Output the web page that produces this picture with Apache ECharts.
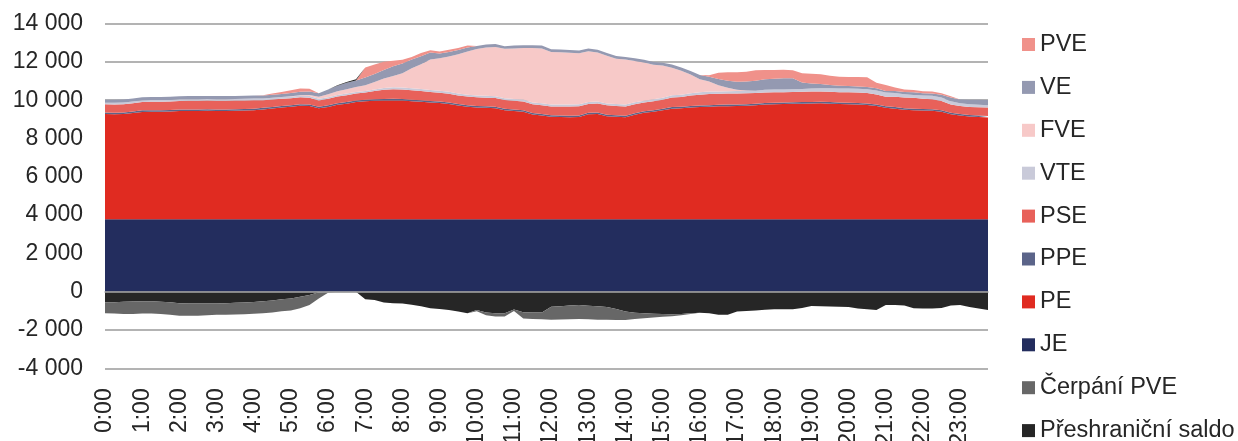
<!DOCTYPE html>
<html>
<head>
<meta charset="utf-8">
<script src="https://cdn.jsdelivr.net/npm/echarts@6/dist/echarts.min.js"></script>
<style>
html,body{margin:0;padding:0;background:#fff;overflow:hidden;}
#chart{width:1238px;height:441px;}
</style>
</head>
<body>
<div id="chart"></div>
<script>
const times = ["0:00","0:15","0:30","0:45","1:00","1:15","1:30","1:45","2:00","2:15","2:30","2:45",
"3:00","3:15","3:30","3:45","4:00","4:15","4:30","4:45","5:00","5:15","5:30","5:45",
"6:00","6:15","6:30","6:45","7:00","7:15","7:30","7:45","8:00","8:15","8:30","8:45",
"9:00","9:15","9:30","9:45","10:00","10:15","10:30","10:45","11:00","11:15","11:30","11:45",
"12:00","12:15","12:30","12:45","13:00","13:15","13:30","13:45","14:00","14:15","14:30","14:45",
"15:00","15:15","15:30","15:45","16:00","16:15","16:30","16:45","17:00","17:15","17:30","17:45",
"18:00","18:15","18:30","18:45","19:00","19:15","19:30","19:45","20:00","20:15","20:30","20:45",
"21:00","21:15","21:30","21:45","22:00","22:15","22:30","22:45","23:00","23:15","23:30","23:45"];

const yTicks = [-4000,-2000,0,2000,4000,6000,8000,10000,12000,14000];

const JE = [3780,3780,3780,3780,3780,3780,3780,3780,3780,3780,3780,3780,3780,3780,3780,3780,
3780,3780,3780,3780,3780,3780,3780,3780,3780,3780,3780,3780,3780,3780,3780,3780,
3780,3780,3780,3780,3780,3780,3780,3780,3780,3780,3780,3780,3780,3780,3780,3780,
3780,3780,3780,3780,3780,3780,3780,3780,3780,3780,3780,3780,3780,3780,3780,3780,
3780,3780,3780,3780,3780,3780,3780,3780,3780,3780,3780,3780,3780,3780,3780,3780,
3780,3780,3780,3780,3780,3780,3780,3780,3780,3780,3780,3780,3780,3780,3780,3780];

const PE = [5495,5490,5500,5550,5610,5620,5620,5630,5650,5660,
5660,5670,5660,5660,5670,5680,5690,5740,5790,5840,
5880,5930,5920,5800,5870,5980,6040,6120,6160,6190,
6200,6210,6200,6170,6140,6100,6070,6020,5940,5880,
5840,5820,5800,5690,5650,5620,5470,5420,5350,5340,
5330,5340,5490,5500,5380,5350,5330,5460,5560,5620,
5690,5780,5800,5840,5860,5880,5900,5910,5920,5930,
5960,5990,6010,6020,6030,6040,6050,6060,6040,6020,
6010,6000,5970,5920,5820,5780,5720,5700,5680,5670,
5620,5480,5420,5370,5340,5320];

const PPE = [80,80,80,80,80,80,80,80,80,80,80,80,80,80,80,80,
80,80,80,80,80,80,80,80,80,80,80,80,80,80,80,80,
80,80,80,80,80,80,80,80,80,80,80,80,80,80,80,80,
80,80,80,80,80,80,80,80,80,80,80,80,80,80,80,80,
80,80,80,80,80,80,80,80,80,80,80,80,80,80,80,80,
80,80,80,80,80,80,80,80,80,80,80,80,80,80,80,80];

const PSE = [430,430,430,435,440,440,440,440,450,450,
450,450,450,450,450,450,450,400,390,380,
365,360,350,330,340,350,360,365,380,430,
490,500,500,490,480,470,460,455,450,450,
450,450,450,455,455,455,455,455,460,470,
480,490,455,470,490,490,480,470,455,470,
480,495,505,540,570,590,580,575,575,575,
560,550,545,540,540,540,540,540,540,540,
540,540,540,520,505,540,560,570,540,520,
480,430,415,420,430,435];

const VTE = [85,85,85,85,85,85,85,85,85,85,
85,85,85,85,85,85,85,85,85,85,
85,85,85,85,85,85,85,85,85,85,
85,100,100,100,100,100,100,100,100,100,
100,100,100,100,100,100,100,100,100,100,
100,100,100,100,100,100,100,100,100,100,
100,120,120,120,120,120,120,120,120,120,
120,140,140,140,140,140,160,170,180,190,
200,200,200,210,220,200,170,140,160,180,
180,170,150,140,130,120];

const FVE = [0,0,0,0,0,0,0,0,0,0,
0,0,0,0,0,0,0,0,0,0,
10,30,60,110,150,190,230,260,300,380,
500,600,750,1050,1300,1600,1700,1850,2050,2250,
2420,2520,2570,2580,2640,2690,2840,2870,2750,2740,
2710,2660,2650,2555,2490,2370,2350,2160,1990,1800,
1680,1445,1255,980,690,520,320,180,70,20,
0,0,0,0,0,0,0,0,0,0,
0,0,0,0,0,0,0,0,0,0,
0,0,0,0,0,0];

const VE = [160,160,160,160,160,160,160,160,160,160,
160,160,160,160,160,160,160,160,160,165,
170,170,175,180,250,290,330,340,400,420,
440,500,500,450,420,360,250,230,220,210,
160,160,150,130,145,145,145,145,140,140,
140,140,145,145,140,140,140,140,145,150,
150,160,170,190,210,260,330,370,420,470,
520,550,570,580,580,350,260,220,180,140,
125,120,120,110,80,100,120,140,120,115,
150,200,195,240,260,280];

const PVE = [0,0,0,0,0,0,0,0,0,0,
0,0,0,0,0,0,0,20,60,100,
150,170,150,0,0,0,0,0,525,495,
435,290,200,140,160,120,100,115,110,100,
0,0,0,0,0,0,0,0,0,0,
0,0,0,0,0,0,0,0,0,0,
0,0,0,0,0,70,320,445,495,515,
550,490,455,450,420,480,510,500,480,480,
475,490,510,290,315,180,130,120,110,105,
70,70,0,0,0,0];

const SALDO = [-555,-545,-530,-515,-495,-500,-520,-555,-600,-610,
-610,-610,-610,-600,-580,-560,-540,-500,-460,-400,
-350,-270,-175,-30,0,20,40,60,-400,-430,
-560,-600,-610,-680,-760,-860,-900,-960,-1040,-1120,
-960,-1080,-1130,-1120,-930,-1070,-1080,-1080,-780,-760,
-720,-700,-740,-760,-800,-900,-1040,-1100,-1130,-1150,
-1170,-1180,-1160,-1130,-1095,-1130,-1200,-1210,-1040,-1010,
-980,-940,-920,-920,-920,-850,-750,-760,-770,-780,
-800,-880,-920,-955,-700,-690,-720,-870,-880,-880,
-850,-720,-700,-800,-880,-955];

const CERPANI = [-575,-590,-640,-650,-640,-640,-640,-650,-650,-640,
-640,-620,-600,-600,-610,-620,-610,-620,-620,-620,
-630,-600,-525,-320,-50,0,0,0,0,0,
0,0,0,0,0,0,0,0,0,0,
-60,-150,-170,-180,-80,-330,-350,-360,-690,-690,
-720,-730,-700,-700,-670,-580,-440,-320,-260,-200,
-140,-100,-70,-40,0,0,0,0,0,0,
0,0,0,0,0,0,0,0,0,0,
0,0,0,0,0,0,0,0,0,0,
0,0,0,0,0,0];

const COLORS = {
  PVE:'#F0918A', VE:'#9499B1', FVE:'#F7C9C8', VTE:'#C9CAD9', PSE:'#E8615A',
  PPE:'#5B6489', PE:'#E02B21', JE:'#232D5E', CERP:'#676767', SALDO:'#262626'
};

const FONT = "'Liberation Sans', Arial, sans-serif";
const TXT = '#262626';

function area(name, data, color, stack) {
  return {
    name: name, type: 'line', stack: stack, data: data,
    symbol: 'none', showSymbol: false, smooth: false,
    lineStyle: { width: 0, color: color },
    itemStyle: { color: color },
    areaStyle: { color: color, opacity: 1 },
    emphasis: { disabled: true },
    silent: true
  };
}

const saldoNeg = SALDO.map(v => Math.min(v, 0));
const saldoPos = SALDO.map(v => Math.max(v, 0));

const chart = echarts.init(document.getElementById('chart'), null, { renderer: 'canvas' });
chart.setOption({
  animation: false,
  backgroundColor: '#ffffff',
  grid: { left: 105, right: 250, top: 23.6, bottom: 72.7, containLabel: false, outerBoundsMode: 'none' },
  legend: {
    orient: 'vertical', left: 1022, top: 32.5, height: 420, padding: 0,
    itemWidth: 13, itemHeight: 13, itemGap: 18.9, icon: 'rect',
    textStyle: { fontSize: 23.5, color: TXT, fontFamily: FONT },
    data: ['PVE','VE','FVE','VTE','PSE','PPE','PE','JE','Čerpání PVE','Přeshraniční saldo'],
    selectedMode: false
  },
  xAxis: [
    {
      type: 'category', data: times, boundaryGap: false, position: 'bottom',
      axisLine: { show: false, onZero: false },
      axisTick: { show: false },
      splitLine: { show: false },
      axisLabel: {
        interval: 3, rotate: 90, margin: 20, fontSize: 23, color: TXT, fontFamily: FONT
      }
    },
    {
      type: 'category', data: times, boundaryGap: false, position: 'bottom', z: 10,
      axisLine: { show: true, onZero: true, lineStyle: { color: '#a6a6a6', width: 1.5 } },
      axisTick: { show: false }, axisLabel: { show: false }, splitLine: { show: false }
    }
  ],
  yAxis: {
    type: 'value', min: yTicks[0], max: yTicks[yTicks.length - 1], interval: 2000,
    axisLine: { show: false }, axisTick: { show: false },
    splitLine: { show: true, lineStyle: { color: '#b3b3b3', width: 2 } },
    axisLabel: {
      margin: 22, fontSize: 23, color: TXT, fontFamily: FONT,
      formatter: v => {
        const s = Math.abs(v).toString().replace(/\B(?=(\d{3})+(?!\d))/g, ' ');
        return (v < 0 ? '-' : '') + s;
      }
    }
  },
  series: [
    area('JE', JE, COLORS.JE, 'pos'),
    area('PE', PE, COLORS.PE, 'pos'),
    area('PPE', PPE, COLORS.PPE, 'pos'),
    area('PSE', PSE, COLORS.PSE, 'pos'),
    area('VTE', VTE, COLORS.VTE, 'pos'),
    area('FVE', FVE, COLORS.FVE, 'pos'),
    area('VE', VE, COLORS.VE, 'pos'),
    area('PVE', PVE, COLORS.PVE, 'pos'),
    area('Přeshraniční saldo', saldoPos, COLORS.SALDO, 'pos'),
    area('Přeshraniční saldo', saldoNeg, COLORS.SALDO, 'neg'),
    area('Čerpání PVE', CERPANI, COLORS.CERP, 'neg')
  ]
});
</script>
</body>
</html>
